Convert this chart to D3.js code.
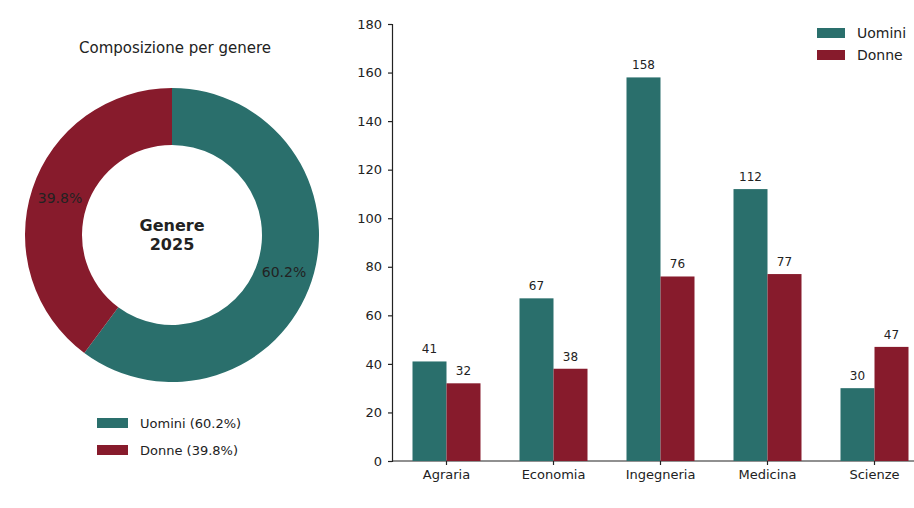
<!DOCTYPE html>
<html>
<head>
<meta charset="utf-8">
<script src="https://cdn.jsdelivr.net/npm/d3@7"></script>
<style>
  body { margin: 0; background: #fff; }
  text { font-family: "DejaVu Sans", sans-serif; fill: #222; }
</style>
</head>
<body>
<div id="chart"></div>
<script>
// data
var facolta = ["Agraria", "Economia", "Ingegneria", "Medicina", "Scienze"];
var uomini = [41, 67, 158, 112, 30];
var donne = [32, 38, 76, 77, 47];
var serie = ["Uomini", "Donne"];
var colori = ["#2a6f6c", "#871b2c"];
var yTicks = [0, 20, 40, 60, 80, 100, 120, 140, 160, 180];

var W = 914, H = 508;
var svg = d3.select("#chart").append("svg")
    .attr("width", W).attr("height", H);

// ---- donut ----
var tot = [d3.sum(uomini), d3.sum(donne)];
var totale = tot[0] + tot[1];
var pct = tot.map(function(v) { return (v / totale * 100).toFixed(1) + "%"; });

var cx = 172, cy = 235, rOut = 147, rIn = 90;
var pie = d3.pie().sort(null).value(function(d) { return d; });
var arc = d3.arc().innerRadius(rIn).outerRadius(rOut);
var labelArc = d3.arc().innerRadius(118).outerRadius(118);

var g1 = svg.append("g").attr("transform", "translate(" + cx + "," + cy + ")");
var arcs = pie(tot);
g1.selectAll("path.slice").data(arcs).enter().append("path")
    .attr("class", "slice")
    .attr("d", arc)
    .attr("fill", function(d, i) { return colori[i]; });

g1.selectAll("text.pct").data(arcs).enter().append("text")
    .attr("class", "pct")
    .attr("transform", function(d) { return "translate(" + labelArc.centroid(d) + ")"; })
    .attr("text-anchor", "middle")
    .attr("dominant-baseline", "central")
    .style("font-size", "14px")
    .text(function(d, i) { return pct[i]; });

g1.append("text").attr("y", -10).attr("text-anchor", "middle")
    .attr("dominant-baseline", "central")
    .style("font-size", "16px").style("font-weight", "bold").text("Genere");
g1.append("text").attr("y", 9).attr("text-anchor", "middle")
    .attr("dominant-baseline", "central")
    .style("font-size", "16px").style("font-weight", "bold").text("2025");

svg.append("text").attr("x", 175).attr("y", 48).attr("text-anchor", "middle")
    .attr("dominant-baseline", "central")
    .style("font-size", "15px").text("Composizione per genere");

// legend left
serie.forEach(function(s, i) {
  var y = 423 + i * 27;
  svg.append("rect").attr("x", 97).attr("y", y - 5).attr("width", 31).attr("height", 10)
      .attr("fill", colori[i]);
  svg.append("text").attr("x", 140).attr("y", y).attr("dominant-baseline", "central")
      .style("font-size", "13px").text(s + " (" + pct[i] + ")");
});

// ---- bars ----
var x0 = d3.scaleBand().domain(facolta).range([393, 928]).paddingInner(0).paddingOuter(0);
var y = d3.scaleLinear().domain([0, 180]).range([461, 24]);
var bw = 34;

var gx = svg.append("g").attr("transform", "translate(0,461)")
    .call(d3.axisBottom(x0).tickSize(4).tickPadding(5));
gx.select(".domain").attr("d", "M392,0H914");
gx.selectAll("text").style("font-size", "13px");

var gy = svg.append("g").attr("transform", "translate(392,0)")
    .call(d3.axisLeft(y).tickValues(yTicks).tickSize(4).tickPadding(6));
gy.selectAll("text").style("font-size", "13px");
svg.selectAll(".domain, .tick line").attr("stroke", "#222").attr("stroke-width", 1.2);

var dati = [uomini, donne];
dati.forEach(function(vals, s) {
  svg.append("g").selectAll("rect").data(vals).enter().append("rect")
      .attr("x", function(d, i) { return x0(facolta[i]) + x0.bandwidth() / 2 - bw + s * bw; })
      .attr("y", function(d) { return y(d); })
      .attr("width", bw)
      .attr("height", function(d) { return y(0) - y(d); })
      .attr("fill", colori[s]);
  svg.append("g").selectAll("text").data(vals).enter().append("text")
      .attr("x", function(d, i) { return x0(facolta[i]) + x0.bandwidth() / 2 - bw / 2 + s * bw; })
      .attr("y", function(d) { return y(d) - 12; })
      .attr("text-anchor", "middle")
      .attr("dominant-baseline", "central")
      .style("font-size", "12px")
      .text(function(d) { return d; });
});

// legend right
serie.forEach(function(s, i) {
  var yy = 33 + i * 22;
  svg.append("rect").attr("x", 817).attr("y", yy - 5).attr("width", 28).attr("height", 10)
      .attr("fill", colori[i]);
  svg.append("text").attr("x", 857).attr("y", yy).attr("dominant-baseline", "central")
      .style("font-size", "14px").text(s);
});
</script>
</body>
</html>
